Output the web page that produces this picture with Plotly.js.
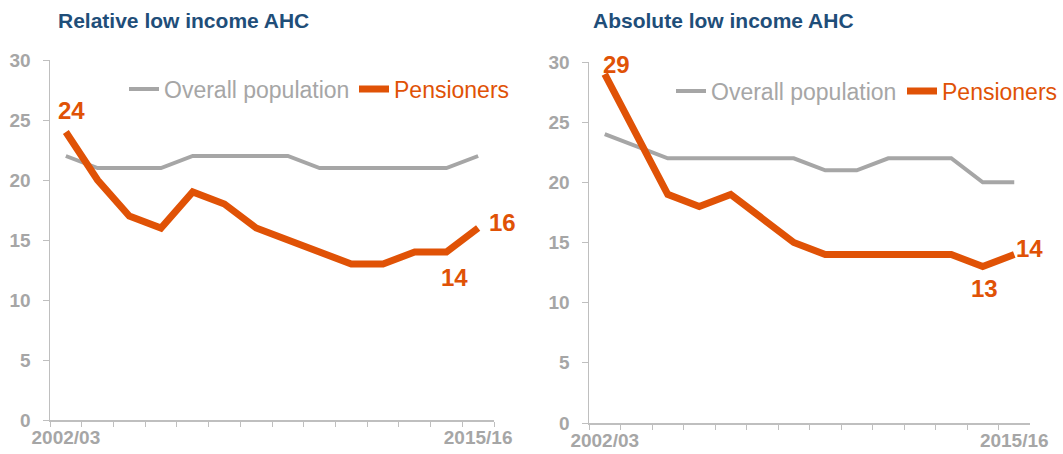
<!DOCTYPE html>
<html>
<head>
<meta charset="utf-8">
<script src="https://cdn.plot.ly/plotly-3.0.1.min.js"></script>
<style>html,body{margin:0;padding:0;background:#fff}#chart{width:1063px;height:454px}</style>
</head>
<body>
<div id="chart"></div>
<script>
// ---- data ----
const years = ["2002/03","2003/04","2004/05","2005/06","2006/07","2007/08","2008/09","2009/10","2010/11","2011/12","2012/13","2013/14","2014/15","2015/16"];
const xTickText = ["2002/03","","","","","","","","","","","","","2015/16"];
const relOverall = [22,21,21,21,22,22,22,22,21,21,21,21,21,22];
const relPensioners = [24,20,17,16,19,18,16,15,14,13,13,14,14,16];
const absOverall = [24,23,22,22,22,22,22,21,21,22,22,22,20,20];
const absPensioners = [29,24,19,18,19,17,15,14,14,14,14,14,13,14];
const yTicks = [0,5,10,15,20,25,30];
const titles = ["Relative low income AHC","Absolute low income AHC"];
const seriesNames = ["Overall population","Pensioners"];

const FONT = "Arial, 'Liberation Sans', sans-serif";
const GREY = "#A6A6A6";
const ORANGE = "#E05206";
const AXIS = "#BFBFBF";
const TITLE = "#1F4E79";

function traces(overall, pens, xa, ya, legA, legB) {
  return [
    {x: years, y: overall, xaxis: xa, yaxis: ya, type: 'scatter', mode: 'lines',
     name: seriesNames[0], legend: legA, line: {color: GREY, width: 4}},
    {x: years, y: pens, xaxis: xa, yaxis: ya, type: 'scatter', mode: 'lines',
     name: seriesNames[1], legend: legB, line: {color: ORANGE, width: 7}}
  ];
}

const data = [].concat(
  traces(relOverall, relPensioners, 'x', 'y', 'legend', 'legend3'),
  traces(absOverall, absPensioners, 'x2', 'y2', 'legend2', 'legend4')
);

function xax(domain, anchor) {
  return {domain: domain, anchor: anchor, type: 'category', range: [-0.5, 13.5],
    tickmode: 'array', tickvals: years, ticktext: xTickText, tickson: 'boundaries', tickangle: 0,
    ticks: 'outside', ticklen: 5, tickcolor: AXIS, showline: true, linecolor: AXIS, linewidth: 1.5,
    showgrid: false, zeroline: false,
    tickfont: {family: FONT, size: 19, color: GREY, weight: 'bold'}, fixedrange: true};
}
function yax(domain, anchor) {
  return {domain: domain, anchor: anchor, range: [0, 30], tickmode: 'array', tickvals: yTicks,
    ticks: 'outside', ticklen: 6, tickcolor: AXIS, showline: true, linecolor: AXIS, linewidth: 1.5,
    showgrid: false, zeroline: false, ticklabelstandoff: 8,
    tickfont: {family: FONT, size: 19, color: GREY, weight: 'bold'}, fixedrange: true};
}

const lbl = {family: FONT, size: 24, color: ORANGE, weight: 'bold'};
function valAnn(xa, ya, i, arr, xs, ys) {
  return {xref: xa, yref: ya, x: years[i], y: arr[i], text: String(arr[i]), showarrow: false,
    xshift: xs, yshift: ys, font: lbl};
}

function leg(xpx, ypx, color, anchor) {
  return {orientation: 'h', yanchor: 'middle', xanchor: anchor || 'left', x: xpx/1063, y: 1-ypx/454,
    font: {family: FONT, size: 23, color: color}, bgcolor: 'rgba(0,0,0,0)',
    itemwidth: 30, borderwidth: 0};
}

const layout = {
  width: 1063, height: 454,
  margin: {l: 0, r: 0, t: 0, b: 0},
  paper_bgcolor: '#fff', plot_bgcolor: '#fff',
  showlegend: true,
  xaxis: xax([50/1063, 494/1063], 'y'),
  yaxis: yax([1-420/454, 1-60/454], 'x'),
  xaxis2: xax([589/1063, 1030/1063], 'y2'),
  yaxis2: yax([1-423/454, 1-62/454], 'x2'),
  legend: leg(124, 89, GREY),
  legend3: leg(354, 89, ORANGE),
  legend2: leg(671, 91, GREY),
  legend4: leg(1063, 91, ORANGE, 'right'),
  annotations: [
    {xref: 'paper', yref: 'paper', x: 56/1063, y: 1-20/454, xanchor: 'left', yanchor: 'middle',
     text: '<b>' + titles[0] + '</b>', showarrow: false, font: {family: FONT, size: 21, color: TITLE}},
    {xref: 'paper', yref: 'paper', x: 591/1063, y: 1-20/454, xanchor: 'left', yanchor: 'middle',
     text: '<b>' + titles[1] + '</b>', showarrow: false, font: {family: FONT, size: 21, color: TITLE}},
    valAnn('x', 'y', 0, relPensioners, 6, 22),
    valAnn('x', 'y', 13, relPensioners, 24, 6),
    valAnn('x', 'y', 12, relPensioners, 8, -25),
    valAnn('x2', 'y2', 0, absPensioners, 12, 10),
    valAnn('x2', 'y2', 13, absPensioners, 15, 6),
    valAnn('x2', 'y2', 12, absPensioners, 2, -22)
  ]
};

Plotly.newPlot('chart', data, layout, {staticPlot: true, displayModeBar: false});
</script>
</body>
</html>
